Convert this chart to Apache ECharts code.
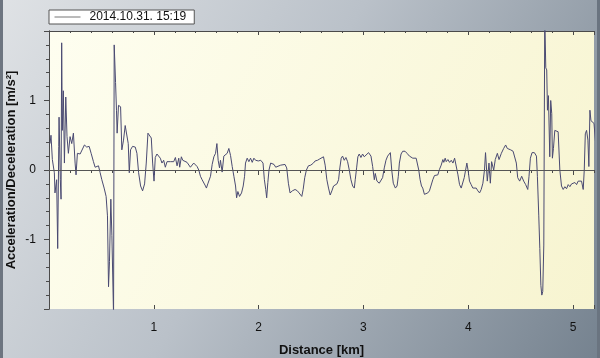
<!DOCTYPE html>
<html>
<head>
<meta charset="utf-8">
<script src="https://cdn.jsdelivr.net/npm/echarts@6/dist/echarts.min.js"></script>
<style>
html,body{margin:0;padding:0;background:#fff;}
#chart{width:600px;height:358px;}
</style>
</head>
<body>
<div id="chart"></div>
<script>
// ---- data ----
const seriesName = '2014.10.31. 15:19';
const xAxisTitle = 'Distance [km]';
const yAxisTitle = 'Acceleration/Deceleration [m/s²]';
const xRange = [0, 5.2];
const yRange = [-2, 2];

const distanceKm = [
0.010,0.019,0.032,0.051,0.057,0.073,0.083,0.093,0.096,0.108,0.115,0.121,0.127,0.137,0.147,0.160,0.172,0.185,0.201,0.217,
0.233,0.249,0.258,0.271,0.297,0.313,0.338,0.360,0.383,0.402,0.424,0.440,0.456,0.472,0.488,0.504,0.526,0.545,0.558,0.568,
0.577,0.590,0.600,0.616,0.622,0.635,0.644,0.650,0.663,0.683,0.695,0.711,0.727,0.743,0.756,0.766,0.778,0.797,0.823,0.839,
0.855,0.874,0.893,0.912,0.928,0.944,0.960,0.976,0.989,1.002,1.014,1.030,1.046,1.062,1.078,1.094,1.110,1.126,1.142,1.158,
1.174,1.190,1.206,1.222,1.238,1.247,1.263,1.276,1.295,1.317,1.333,1.349,1.365,1.381,1.397,1.413,1.429,1.445,1.461,1.477,
1.493,1.502,1.515,1.531,1.541,1.557,1.573,1.589,1.602,1.614,1.627,1.636,1.652,1.668,1.684,1.700,1.716,1.732,1.748,1.764,
1.780,1.790,1.802,1.818,1.837,1.853,1.866,1.875,1.891,1.907,1.923,1.939,1.955,1.971,1.997,2.020,2.042,2.055,2.068,2.077,
2.088,2.099,2.115,2.131,2.147,2.163,2.179,2.211,2.252,2.268,2.284,2.300,2.322,2.348,2.370,2.386,2.412,2.425,2.440,2.456,
2.475,2.498,2.514,2.523,2.539,2.562,2.584,2.603,2.619,2.635,2.651,2.667,2.683,2.699,2.715,2.731,2.747,2.763,2.775,2.788,
2.801,2.817,2.833,2.849,2.865,2.881,2.897,2.913,2.922,2.935,2.947,2.960,2.976,2.992,3.008,3.024,3.049,3.072,3.088,3.104,
3.113,3.129,3.151,3.167,3.183,3.199,3.215,3.231,3.247,3.257,3.270,3.285,3.305,3.321,3.333,3.343,3.359,3.375,3.397,3.416,
3.439,3.455,3.471,3.487,3.503,3.519,3.528,3.541,3.554,3.566,3.582,3.598,3.614,3.630,3.646,3.662,3.678,3.694,3.710,3.726,
3.742,3.758,3.767,3.780,3.790,3.806,3.822,3.838,3.854,3.870,3.886,3.902,3.917,3.933,3.949,3.962,3.975,3.987,4.000,4.012,
4.028,4.044,4.060,4.076,4.092,4.108,4.124,4.140,4.155,4.165,4.182,4.198,4.211,4.223,4.243,4.258,4.278,4.294,4.316,4.338,
4.357,4.373,4.389,4.405,4.428,4.447,4.459,4.472,4.491,4.510,4.529,4.548,4.568,4.580,4.593,4.609,4.631,4.651,4.660,4.673,
4.683,4.693,4.702,4.711,4.721,4.730,4.740,4.749,4.756,4.765,4.778,4.787,4.797,4.803,4.813,4.826,4.842,4.858,4.874,4.890,
4.906,4.922,4.938,4.954,4.970,4.986,5.002,5.018,5.034,5.049,5.065,5.081,5.097,5.107,5.117,5.129,5.142,5.151,5.161,5.171,
5.187,5.200,5.216
];

const acceleration = [
0.38,0.50,0.15,-0.04,-0.33,-0.14,-1.13,0.34,0.76,-0.14,-0.42,1.83,0.57,1.14,0.10,1.05,0.48,0.24,0.48,0.38,
0.53,0.10,-0.07,0.24,0.23,0.25,0.36,0.33,0.34,0.24,0.12,0.04,0.02,0.06,-0.04,-0.14,-0.26,-0.38,-0.66,-1.68,
-1.32,-0.42,-0.94,-2.10,1.80,1.26,0.86,0.53,0.93,0.91,0.29,0.43,0.64,0.62,0.38,-0.04,0.29,0.34,0.33,0.24,
-0.04,-0.23,-0.30,-0.20,0.10,0.53,0.55,0.46,0.10,-0.16,0.18,0.23,0.25,0.17,0.10,0.14,0.04,0.12,0.14,0.12,
0.10,0.12,0.18,0.06,0.17,0.04,0.19,0.14,0.12,0.11,0.10,0.04,0.03,0.10,0.08,0.05,0.00,-0.09,-0.14,-0.16,
-0.23,-0.26,-0.20,-0.21,-0.09,0.08,0.19,0.24,0.38,0.14,0.03,0.14,-0.03,0.20,0.18,0.24,0.31,0.21,0.05,-0.09,
-0.23,-0.40,-0.31,-0.38,-0.33,-0.23,-0.09,0.10,0.17,0.12,0.17,0.11,0.17,0.14,0.13,0.14,0.10,-0.14,-0.28,-0.40,
-0.18,0.00,0.10,0.12,0.08,0.04,0.03,0.07,0.08,0.03,-0.19,-0.33,-0.30,-0.28,-0.30,-0.33,-0.38,-0.28,-0.11,0.00,
0.06,0.07,0.05,0.10,0.13,0.14,0.16,0.18,0.19,0.07,-0.14,-0.26,-0.36,-0.30,-0.23,-0.24,-0.20,-0.14,0.03,0.17,
0.20,0.14,0.18,0.12,0.00,-0.14,-0.23,-0.26,-0.14,0.03,0.19,0.23,0.18,0.23,0.19,0.21,0.25,0.20,0.05,-0.14,
-0.05,-0.16,-0.19,-0.20,-0.11,0.03,0.14,0.20,0.22,0.25,0.00,-0.19,-0.26,-0.23,-0.09,0.10,0.23,0.27,0.27,0.24,
0.20,0.19,0.17,0.19,0.17,0.15,0.00,-0.14,-0.23,-0.26,-0.35,-0.34,-0.33,-0.30,-0.28,-0.14,-0.08,-0.09,-0.07,0.01,
0.07,0.15,0.11,0.17,0.12,0.15,0.11,0.14,0.10,0.17,0.18,-0.07,-0.21,-0.26,-0.28,-0.11,0.00,0.10,-0.02,-0.16,
-0.21,-0.26,-0.28,-0.26,-0.30,-0.33,-0.28,-0.19,0.00,0.25,-0.16,0.10,-0.19,0.12,0.00,0.15,0.24,0.15,0.24,0.31,
0.36,0.31,0.29,0.29,0.27,0.28,0.10,-0.11,-0.16,-0.09,-0.16,-0.21,-0.28,-0.09,0.17,0.25,0.25,0.20,-0.09,-0.66,
-1.13,-1.66,-1.80,-1.75,-1.08,2.20,1.47,1.44,0.86,1.07,0.19,1.00,0.81,0.17,0.31,0.57,0.58,0.55,0.00,-0.23,
-0.28,-0.24,-0.27,-0.21,-0.24,-0.20,-0.22,-0.18,-0.21,-0.16,-0.18,-0.16,-0.28,0.00,0.52,0.57,0.43,0.05,0.86,0.71,
0.71,0.67,0.38
];

const pairs = distanceKm.map((d, i) => [d, acceleration[i]]);

const FONT = '"Liberation Sans", Arial, sans-serif';
const AXIS_COLOR = '#4a4a4a';

function subAxis(pos, interval, tickLen, inside, showLine) {
  return {
    type: 'value', position: pos, min: xRange[0], max: xRange[1], interval: interval,
    axisLine: { show: showLine, lineStyle: { color: AXIS_COLOR, width: 1 } },
    axisTick: { show: true, inside: inside, length: tickLen, lineStyle: { color: AXIS_COLOR, width: 1 } },
    axisLabel: { show: false },
    splitLine: { show: false }
  };
}

const chart = echarts.init(document.getElementById('chart'), null, { renderer: 'canvas' });
chart.setOption({
  animation: false,
  backgroundColor: {
    type: 'linear', x: 0, y: 0, x2: 1, y2: 1,
    colorStops: [
      { offset: 0, color: '#dfe2e5' },
      { offset: 0.45, color: '#bac1c9' },
      { offset: 1, color: '#75828f' }
    ]
  },
  graphic: [
    { type: 'rect', left: 0, top: 0, shape: { width: 3, height: 358 }, style: { fill: '#6d7580' }, silent: true },
    { type: 'rect', right: 0, top: 0, shape: { width: 3, height: 358 }, style: { fill: '#6a7480' }, silent: true }
  ],
  grid: {
    left: 49, right: 6, top: 31, bottom: 49,
    containLabel: false,
    outerBoundsMode: 'none',
    show: true, borderWidth: 0,
    backgroundColor: {
      type: 'linear', x: 0, y: 0, x2: 1, y2: 1,
      colorStops: [
        { offset: 0, color: '#fefef0' },
        { offset: 1, color: '#f7f4d0' }
      ]
    }
  },
  legend: {
    left: 49, top: 10,
    data: [seriesName],
    backgroundColor: '#ffffff',
    borderColor: '#555',
    borderWidth: 1,
    borderRadius: 0,
    padding: [1, 8, 1, 5],
    itemWidth: 26, itemHeight: 12,
    itemStyle: { opacity: 0 },
    lineStyle: { color: '#777', width: 1 },
    textStyle: { fontFamily: FONT, fontSize: 12, color: '#111', padding: [0, 0, 0, 4] }
  },
  xAxis: [
    {
      type: 'value', position: 'bottom', min: xRange[0], max: xRange[1], interval: 1,
      name: xAxisTitle, nameLocation: 'middle', nameGap: 35, nameMoveOverlap: false,
      nameTextStyle: { fontFamily: FONT, fontSize: 13, fontWeight: 'bold', color: '#111' },
      axisLine: { show: true, lineStyle: { color: AXIS_COLOR, width: 1 } },
      axisTick: { show: true, inside: false, length: 5, lineStyle: { color: AXIS_COLOR, width: 1 } },
      axisLabel: { show: true, showMinLabel: false, showMaxLabel: false, margin: 13,
                   fontFamily: FONT, fontSize: 12, color: '#111' },
      splitLine: { show: false }
    },
    subAxis('bottom', 0.2, 3, false, false),
    subAxis('bottom', 1, 4, true, false),
    subAxis('top', 1, 4, true, true),
    subAxis('top', 0.2, 2, true, false)
  ],
  yAxis: [
    {
      type: 'value', position: 'left', min: yRange[0], max: yRange[1], interval: 1,
      name: yAxisTitle, nameLocation: 'middle', nameGap: 31, nameMoveOverlap: false,
      nameTextStyle: { fontFamily: FONT, fontSize: 13, fontWeight: 'bold', color: '#111' },
      axisLine: { show: true, lineStyle: { color: AXIS_COLOR, width: 1 } },
      axisTick: { show: true, inside: false, length: 5, lineStyle: { color: AXIS_COLOR, width: 1 } },
      minorTick: { show: true, splitNumber: 5, length: 3, lineStyle: { color: AXIS_COLOR, width: 1 } },
      axisLabel: { show: true, showMinLabel: false, showMaxLabel: false, margin: 13,
                   fontFamily: FONT, fontSize: 12, color: '#111' },
      splitLine: { show: false }
    },
    {
      type: 'value', position: 'right', min: yRange[0], max: yRange[1], interval: 1,
      axisLine: { show: true, lineStyle: { color: AXIS_COLOR, width: 1 } },
      axisTick: { show: false }, axisLabel: { show: false }, splitLine: { show: false }
    }
  ],
  series: [{
    name: seriesName,
    type: 'line',
    xAxisIndex: 0, yAxisIndex: 0,
    data: pairs,
    symbol: 'none',
    clip: true,
    lineStyle: { color: '#4a4a72', width: 1 },
    itemStyle: { color: '#4a4a72' },
    markLine: {
      silent: true, symbol: 'none',
      label: { show: false },
      lineStyle: { color: '#555', width: 1, type: 'solid' },
      data: [{ yAxis: 0 }]
    }
  }]
});
</script>
</body>
</html>
